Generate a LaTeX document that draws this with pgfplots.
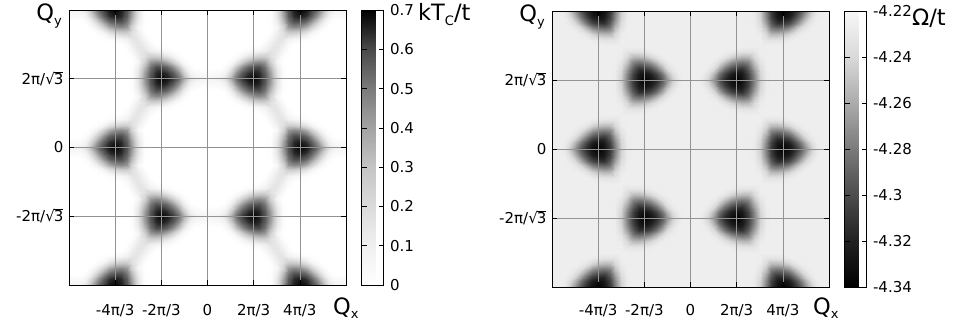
\documentclass[border=0pt]{standalone}
\usepackage{pgfplots}
\pgfplotsset{compat=1.18}
\usepackage{pgfplotstable}
\usepackage{fontspec}
\setmainfont{DejaVu Sans}
\newcommand{\tickfont}{\fontsize{15}{17}\selectfont}
\newcommand{\labfont}{\fontsize{22.5}{25}\selectfont}
\newcommand{\subfont}{\fontsize{13}{14}\selectfont}
\newcommand{\sq}{√\kern-0.06em\rlap{\rule[0.745em]{0.6em}{0.065em}}3}
\pgfplotsset{
 colormap={tcmap}{gray(0cm)=(1); gray(1cm)=(0.94); gray(2cm)=(0.86); gray(3cm)=(0.77); gray(4cm)=(0.64); gray(5cm)=(0.48); gray(6cm)=(0.29); gray(7cm)=(0)},
 colormap={omap}{gray(0cm)=(0); gray(1cm)=(0.13); gray(2cm)=(0.3); gray(3cm)=(0.48); gray(4cm)=(0.67); gray(5cm)=(0.85); gray(6cm)=(0.97)},
 hm/.style={scale only axis, width=277pt, xmin=-24, xmax=24, ymin=-24, ymax=24,
  axis on top, tick pos=both, tick align=inside, major tick length=5pt,
  tick style={black, line width=0.6pt}, grid=major,
  major grid style={gray!85!white, line width=0.6pt},
  axis line style={black, line width=0.8pt},
  xtick={-16,-8,0,8,16}, xticklabels={-4π/3,-2π/3,0,2π/3,4π/3},
  ytick={-12,0,12}, yticklabels={-2π/\sq,0,2π/\sq},
  ticklabel style={font=\tickfont},
  yticklabel style={anchor=east, xshift=-2pt},
  colorbar},
 cb/.style={at={(parent axis.north east)}, anchor=north west, xshift=7pt,
  scale only axis, width=22pt, tick align=inside, ytick pos=both, yticklabel pos=right,
  major tick length=5pt, tick style={black, line width=0.6pt},
  axis line style={black, line width=0.8pt},
  /pgf/number format/assume math mode=true,
  yticklabel style={font=\tickfont, anchor=west, xshift=3pt}},
 qp/.style={surf, shader=interp, mesh/cols=25, point meta=explicit},
}
\begin{document}
\pgfplotstableread[row sep=\\]{
i j v\\
0 0 0\\1 0 0\\2 0 0\\3 0 0\\4 0 0\\5 0 0\\6 0 0\\7 0 0\\8 0 0\\9 0 0\\10 0 0\\11 0 0.021\\12 0 0.166\\13 0 0.414\\14 0 0.58\\15 0 0.662\\16 0 0.69\\17 0 0.671\\18 0 0.618\\19 0 0.524\\20 0 0.364\\21 0 0.166\\22 0 0.09\\23 0 0.075\\24 0 0.065\\
0 1 0\\1 1 0\\2 1 0\\3 1 0\\4 1 0\\5 1 0\\6 1 0\\7 1 0\\8 1 0\\9 1 0\\10 1 0\\11 1 0.018\\12 1 0.152\\13 1 0.389\\14 1 0.56\\15 1 0.645\\16 1 0.664\\17 1 0.635\\18 1 0.567\\19 1 0.443\\20 1 0.26\\21 1 0.086\\22 1 0.04\\23 1 0.034\\24 1 0.029\\
0 2 0\\1 2 0\\2 2 0\\3 2 0\\4 2 0\\5 2 0\\6 2 0\\7 2 0\\8 2 0\\9 2 0\\10 2 0\\11 2 0.011\\12 2 0.112\\13 2 0.324\\14 2 0.511\\15 2 0.596\\16 2 0.59\\17 2 0.548\\18 2 0.455\\19 2 0.299\\20 2 0.131\\21 2 0.028\\22 2 0\\23 2 0\\24 2 0\\
0 3 0\\1 3 0\\2 3 0\\3 3 0\\4 3 0\\5 3 0\\6 3 0\\7 3 0\\8 3 0\\9 3 0\\10 3 0\\11 3 0\\12 3 0.059\\13 3 0.228\\14 3 0.422\\15 3 0.464\\16 3 0.445\\17 3 0.38\\18 3 0.265\\19 3 0.129\\20 3 0.036\\21 3 0\\22 3 0\\23 3 0\\24 3 0\\
0 4 0\\1 4 0\\2 4 0\\3 4 0\\4 4 0\\5 4 0\\6 4 0\\7 4 0\\8 4 0\\9 4 0\\10 4 0\\11 4 0.022\\12 4 0.104\\13 4 0.171\\14 4 0.248\\15 4 0.25\\16 4 0.218\\17 4 0.154\\18 4 0.075\\19 4 0.021\\20 4 0\\21 4 0\\22 4 0\\23 4 0\\24 4 0\\
0 5 0\\1 5 0\\2 5 0\\3 5 0\\4 5 0\\5 5 0\\6 5 0\\7 5 0\\8 5 0\\9 5 0\\10 5 0.009\\11 5 0.067\\12 5 0.14\\13 5 0.152\\14 5 0.093\\15 5 0.06\\16 5 0.047\\17 5 0.021\\18 5 0.006\\19 5 0\\20 5 0\\21 5 0\\22 5 0\\23 5 0\\24 5 0\\
0 6 0\\1 6 0\\2 6 0\\3 6 0\\4 6 0\\5 6 0\\6 6 0\\7 6 0\\8 6 0\\9 6 0\\10 6 0.04\\11 6 0.11\\12 6 0.15\\13 6 0.11\\14 6 0.04\\15 6 0\\16 6 0\\17 6 0\\18 6 0\\19 6 0\\20 6 0\\21 6 0\\22 6 0\\23 6 0\\24 6 0\\
0 7 0\\1 7 0\\2 7 0\\3 7 0\\4 7 0\\5 7 0\\6 7 0.006\\7 7 0.021\\8 7 0.047\\9 7 0.06\\10 7 0.093\\11 7 0.152\\12 7 0.14\\13 7 0.067\\14 7 0.009\\15 7 0\\16 7 0\\17 7 0\\18 7 0\\19 7 0\\20 7 0\\21 7 0\\22 7 0\\23 7 0\\24 7 0\\
0 8 0\\1 8 0\\2 8 0\\3 8 0\\4 8 0\\5 8 0.021\\6 8 0.075\\7 8 0.154\\8 8 0.218\\9 8 0.25\\10 8 0.248\\11 8 0.171\\12 8 0.104\\13 8 0.022\\14 8 0\\15 8 0\\16 8 0\\17 8 0\\18 8 0\\19 8 0\\20 8 0\\21 8 0\\22 8 0\\23 8 0\\24 8 0\\
0 9 0\\1 9 0\\2 9 0\\3 9 0\\4 9 0.036\\5 9 0.129\\6 9 0.265\\7 9 0.38\\8 9 0.445\\9 9 0.464\\10 9 0.422\\11 9 0.228\\12 9 0.059\\13 9 0\\14 9 0\\15 9 0\\16 9 0\\17 9 0\\18 9 0\\19 9 0\\20 9 0\\21 9 0\\22 9 0\\23 9 0\\24 9 0\\
0 10 0\\1 10 0\\2 10 0\\3 10 0.028\\4 10 0.131\\5 10 0.299\\6 10 0.455\\7 10 0.548\\8 10 0.59\\9 10 0.596\\10 10 0.511\\11 10 0.324\\12 10 0.112\\13 10 0.011\\14 10 0\\15 10 0\\16 10 0\\17 10 0\\18 10 0\\19 10 0\\20 10 0\\21 10 0\\22 10 0\\23 10 0\\24 10 0\\
0 11 0.029\\1 11 0.034\\2 11 0.04\\3 11 0.086\\4 11 0.26\\5 11 0.443\\6 11 0.567\\7 11 0.635\\8 11 0.664\\9 11 0.645\\10 11 0.56\\11 11 0.389\\12 11 0.152\\13 11 0.018\\14 11 0\\15 11 0\\16 11 0\\17 11 0\\18 11 0\\19 11 0\\20 11 0\\21 11 0\\22 11 0\\23 11 0\\24 11 0\\
0 12 0.065\\1 12 0.075\\2 12 0.09\\3 12 0.166\\4 12 0.364\\5 12 0.524\\6 12 0.618\\7 12 0.671\\8 12 0.69\\9 12 0.662\\10 12 0.58\\11 12 0.414\\12 12 0.166\\13 12 0.021\\14 12 0\\15 12 0\\16 12 0\\17 12 0\\18 12 0\\19 12 0\\20 12 0\\21 12 0\\22 12 0\\23 12 0\\24 12 0\\
}\Ltab
\pgfplotstableread[row sep=\\]{
i j v\\
0 0 -4.226\\1 0 -4.226\\2 0 -4.226\\3 0 -4.226\\4 0 -4.226\\5 0 -4.226\\6 0 -4.226\\7 0 -4.226\\8 0 -4.226\\9 0 -4.226\\10 0 -4.226\\11 0 -4.228\\12 0 -4.244\\13 0 -4.278\\14 0 -4.309\\15 0 -4.329\\16 0 -4.338\\17 0 -4.331\\18 0 -4.318\\19 0 -4.297\\20 0 -4.270\\21 0 -4.244\\22 0 -4.230\\23 0 -4.226\\24 0 -4.226\\
0 1 -4.226\\1 1 -4.226\\2 1 -4.226\\3 1 -4.226\\4 1 -4.226\\5 1 -4.226\\6 1 -4.226\\7 1 -4.226\\8 1 -4.226\\9 1 -4.226\\10 1 -4.226\\11 1 -4.228\\12 1 -4.242\\13 1 -4.274\\14 1 -4.305\\15 1 -4.325\\16 1 -4.330\\17 1 -4.322\\18 1 -4.306\\19 1 -4.283\\20 1 -4.256\\21 1 -4.236\\22 1 -4.227\\23 1 -4.226\\24 1 -4.226\\
0 2 -4.226\\1 2 -4.226\\2 2 -4.226\\3 2 -4.226\\4 2 -4.226\\5 2 -4.226\\6 2 -4.226\\7 2 -4.226\\8 2 -4.226\\9 2 -4.226\\10 2 -4.226\\11 2 -4.227\\12 2 -4.238\\13 2 -4.265\\14 2 -4.294\\15 2 -4.313\\16 2 -4.311\\17 2 -4.302\\18 2 -4.285\\19 2 -4.261\\20 2 -4.240\\21 2 -4.229\\22 2 -4.226\\23 2 -4.226\\24 2 -4.226\\
0 3 -4.226\\1 3 -4.226\\2 3 -4.226\\3 3 -4.226\\4 3 -4.226\\5 3 -4.226\\6 3 -4.226\\7 3 -4.226\\8 3 -4.226\\9 3 -4.226\\10 3 -4.226\\11 3 -4.226\\12 3 -4.233\\13 3 -4.252\\14 3 -4.279\\15 3 -4.286\\16 3 -4.283\\17 3 -4.273\\18 3 -4.257\\19 3 -4.240\\20 3 -4.230\\21 3 -4.226\\22 3 -4.226\\23 3 -4.226\\24 3 -4.226\\
0 4 -4.226\\1 4 -4.226\\2 4 -4.226\\3 4 -4.226\\4 4 -4.226\\5 4 -4.226\\6 4 -4.226\\7 4 -4.226\\8 4 -4.226\\9 4 -4.226\\10 4 -4.226\\11 4 -4.226\\12 4 -4.228\\13 4 -4.240\\14 4 -4.254\\15 4 -4.255\\16 4 -4.251\\17 4 -4.243\\18 4 -4.234\\19 4 -4.228\\20 4 -4.226\\21 4 -4.226\\22 4 -4.226\\23 4 -4.226\\24 4 -4.226\\
0 5 -4.226\\1 5 -4.226\\2 5 -4.226\\3 5 -4.226\\4 5 -4.226\\5 5 -4.226\\6 5 -4.226\\7 5 -4.226\\8 5 -4.226\\9 5 -4.226\\10 5 -4.226\\11 5 -4.226\\12 5 -4.226\\13 5 -4.232\\14 5 -4.233\\15 5 -4.233\\16 5 -4.231\\17 5 -4.228\\18 5 -4.226\\19 5 -4.226\\20 5 -4.226\\21 5 -4.226\\22 5 -4.226\\23 5 -4.226\\24 5 -4.226\\
0 6 -4.226\\1 6 -4.226\\2 6 -4.226\\3 6 -4.226\\4 6 -4.226\\5 6 -4.226\\6 6 -4.226\\7 6 -4.226\\8 6 -4.226\\9 6 -4.226\\10 6 -4.226\\11 6 -4.226\\12 6 -4.226\\13 6 -4.226\\14 6 -4.226\\15 6 -4.226\\16 6 -4.226\\17 6 -4.226\\18 6 -4.226\\19 6 -4.226\\20 6 -4.226\\21 6 -4.226\\22 6 -4.226\\23 6 -4.226\\24 6 -4.226\\
0 7 -4.226\\1 7 -4.226\\2 7 -4.226\\3 7 -4.226\\4 7 -4.226\\5 7 -4.226\\6 7 -4.226\\7 7 -4.228\\8 7 -4.231\\9 7 -4.233\\10 7 -4.233\\11 7 -4.232\\12 7 -4.226\\13 7 -4.226\\14 7 -4.226\\15 7 -4.226\\16 7 -4.226\\17 7 -4.226\\18 7 -4.226\\19 7 -4.226\\20 7 -4.226\\21 7 -4.226\\22 7 -4.226\\23 7 -4.226\\24 7 -4.226\\
0 8 -4.226\\1 8 -4.226\\2 8 -4.226\\3 8 -4.226\\4 8 -4.226\\5 8 -4.228\\6 8 -4.234\\7 8 -4.243\\8 8 -4.251\\9 8 -4.255\\10 8 -4.254\\11 8 -4.240\\12 8 -4.228\\13 8 -4.226\\14 8 -4.226\\15 8 -4.226\\16 8 -4.226\\17 8 -4.226\\18 8 -4.226\\19 8 -4.226\\20 8 -4.226\\21 8 -4.226\\22 8 -4.226\\23 8 -4.226\\24 8 -4.226\\
0 9 -4.226\\1 9 -4.226\\2 9 -4.226\\3 9 -4.226\\4 9 -4.230\\5 9 -4.240\\6 9 -4.257\\7 9 -4.273\\8 9 -4.283\\9 9 -4.286\\10 9 -4.279\\11 9 -4.252\\12 9 -4.233\\13 9 -4.226\\14 9 -4.226\\15 9 -4.226\\16 9 -4.226\\17 9 -4.226\\18 9 -4.226\\19 9 -4.226\\20 9 -4.226\\21 9 -4.226\\22 9 -4.226\\23 9 -4.226\\24 9 -4.226\\
0 10 -4.226\\1 10 -4.226\\2 10 -4.226\\3 10 -4.229\\4 10 -4.240\\5 10 -4.261\\6 10 -4.285\\7 10 -4.302\\8 10 -4.311\\9 10 -4.313\\10 10 -4.294\\11 10 -4.265\\12 10 -4.238\\13 10 -4.227\\14 10 -4.226\\15 10 -4.226\\16 10 -4.226\\17 10 -4.226\\18 10 -4.226\\19 10 -4.226\\20 10 -4.226\\21 10 -4.226\\22 10 -4.226\\23 10 -4.226\\24 10 -4.226\\
0 11 -4.226\\1 11 -4.226\\2 11 -4.227\\3 11 -4.236\\4 11 -4.256\\5 11 -4.283\\6 11 -4.306\\7 11 -4.322\\8 11 -4.330\\9 11 -4.325\\10 11 -4.305\\11 11 -4.274\\12 11 -4.242\\13 11 -4.228\\14 11 -4.226\\15 11 -4.226\\16 11 -4.226\\17 11 -4.226\\18 11 -4.226\\19 11 -4.226\\20 11 -4.226\\21 11 -4.226\\22 11 -4.226\\23 11 -4.226\\24 11 -4.226\\
0 12 -4.226\\1 12 -4.226\\2 12 -4.230\\3 12 -4.244\\4 12 -4.270\\5 12 -4.297\\6 12 -4.318\\7 12 -4.331\\8 12 -4.338\\9 12 -4.329\\10 12 -4.309\\11 12 -4.278\\12 12 -4.244\\13 12 -4.228\\14 12 -4.226\\15 12 -4.226\\16 12 -4.226\\17 12 -4.226\\18 12 -4.226\\19 12 -4.226\\20 12 -4.226\\21 12 -4.226\\22 12 -4.226\\23 12 -4.226\\24 12 -4.226\\
}\Rtab
\begin{tikzpicture}[x=1pt,y=1pt]
\path (0,0) rectangle (953,327);
\begin{axis}[hm, at={(69pt,42pt)}, anchor=south west, height=275pt,
  xticklabel style={anchor=base, yshift=-30pt},
  colormap name=tcmap, point meta min=0, point meta max=0.7,
  colorbar style={cb, height=275pt, ytick={0,0.1,0.2,0.3,0.4,0.5,0.6,0.7}}]
\addplot[qp] table[x=i, y=j, meta=v] {\Ltab};
\addplot[qp] table[x expr=-\thisrow{i}, y=j, meta=v] {\Ltab};
\addplot[qp] table[x=i, y expr=-\thisrow{j}, meta=v] {\Ltab};
\addplot[qp] table[x expr=-\thisrow{i}, y expr=-\thisrow{j}, meta=v] {\Ltab};
\addplot[qp] table[x=i, y expr=24-\thisrow{j}, meta=v] {\Ltab};
\addplot[qp] table[x expr=-\thisrow{i}, y expr=24-\thisrow{j}, meta=v] {\Ltab};
\addplot[qp] table[x=i, y expr=\thisrow{j}-24, meta=v] {\Ltab};
\addplot[qp] table[x expr=-\thisrow{i}, y expr=\thisrow{j}-24, meta=v] {\Ltab};
\end{axis}
\begin{axis}[hm, at={(552pt,40pt)}, anchor=south west, height=276pt,
  xticklabel style={anchor=base, yshift=-28pt},
  colormap name=omap, point meta min=-4.34, point meta max=-4.22,
  colorbar style={cb, height=276pt, ytick={-4.34,-4.32,-4.3,-4.28,-4.26,-4.24,-4.22}}]
\addplot[qp] table[x=i, y=j, meta=v] {\Rtab};
\addplot[qp] table[x expr=-\thisrow{i}, y=j, meta=v] {\Rtab};
\addplot[qp] table[x=i, y expr=-\thisrow{j}, meta=v] {\Rtab};
\addplot[qp] table[x expr=-\thisrow{i}, y expr=-\thisrow{j}, meta=v] {\Rtab};
\addplot[qp] table[x=i, y expr=24-\thisrow{j}, meta=v] {\Rtab};
\addplot[qp] table[x expr=-\thisrow{i}, y expr=24-\thisrow{j}, meta=v] {\Rtab};
\addplot[qp] table[x=i, y expr=\thisrow{j}-24, meta=v] {\Rtab};
\addplot[qp] table[x expr=-\thisrow{i}, y expr=\thisrow{j}-24, meta=v] {\Rtab};
\end{axis}
\node[anchor=base east, inner sep=0pt] at (62,306.5) {\labfont Q\raisebox{-0.22em}{\subfont y}};
\node[anchor=base west, inner sep=0pt] at (333,13) {\labfont Q\raisebox{-0.22em}{\subfont x}};
\node[anchor=base west, inner sep=0pt] at (418,306) {\labfont kT\raisebox{-0.22em}{\subfont C}/t};
\node[anchor=base east, inner sep=0pt] at (545,305) {\labfont Q\raisebox{-0.22em}{\subfont y}};
\node[anchor=base west, inner sep=0pt] at (813,13) {\labfont Q\raisebox{-0.22em}{\subfont x}};
\node[anchor=base west, inner sep=0pt] at (912,301) {\labfont Ω/t};
\end{tikzpicture}
\end{document}
